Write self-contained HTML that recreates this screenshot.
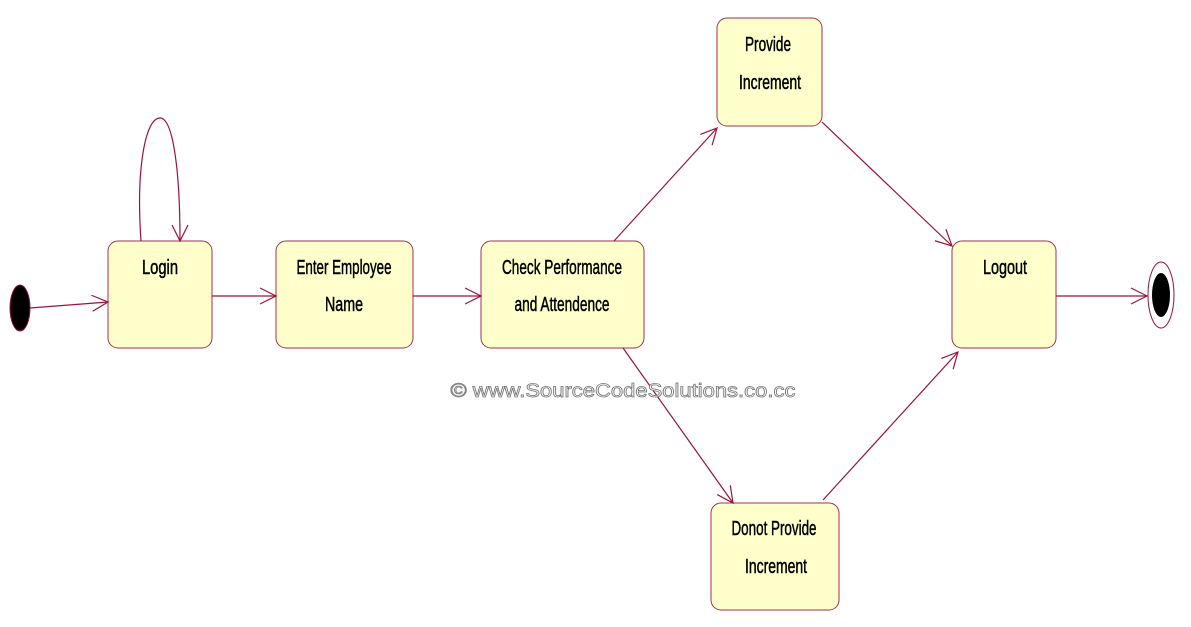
<!DOCTYPE html>
<html><head><style>body{margin:0;background:#fff}svg{display:block}</style></head><body>
<svg width="1191" height="627" viewBox="0 0 1191 627" xmlns="http://www.w3.org/2000/svg">
<defs><marker id="a" markerWidth="20" markerHeight="20" refX="18" refY="10" orient="auto" markerUnits="userSpaceOnUse"><path d="M2,2 L18,10 L2,18" fill="none" stroke="#99143c" stroke-width="1.2"/></marker></defs>
<g fill="#ffffcc" stroke="#a0324f" stroke-width="1">
<rect x="108" y="241" width="104" height="107" rx="10"/>
<rect x="276" y="241" width="137" height="107" rx="10"/>
<rect x="481" y="241" width="163" height="107" rx="10"/>
<rect x="717" y="18" width="105" height="108" rx="10"/>
<rect x="711" y="503" width="128" height="107" rx="10"/>
<rect x="952" y="241" width="104" height="107" rx="10"/>
</g>
<ellipse cx="20" cy="308" rx="10" ry="23" fill="#000" stroke="#99143c"/>
<ellipse cx="1161" cy="295" rx="13" ry="33" fill="#fff" stroke="#99143c"/>
<ellipse cx="1161" cy="295" rx="9" ry="22" fill="#000"/>
<g stroke="#99143c" stroke-width="1.2" fill="none" marker-end="url(#a)">
<path d="M30,308 L108,302"/>
<path d="M212,296 L276,296"/>
<path d="M413,296 L481,296"/>
<path d="M614,241 L717,128"/>
<path d="M822,122 L952,246"/>
<path d="M623,348 L733,503"/>
<path d="M823,500 L958,352"/>
<path d="M1056,296 L1147,296"/>
<path d="M141,241 C136,170 145,118 160,118 C173,118 180,170 180,241"/>
</g>
<g font-family="Liberation Sans, sans-serif" font-size="20" fill="#000" stroke="#000" stroke-width="0.5" text-anchor="middle">
<text x="160" y="274" textLength="36" lengthAdjust="spacingAndGlyphs">Login</text>
<text x="344" y="274" textLength="95" lengthAdjust="spacingAndGlyphs">Enter Employee</text>
<text x="344" y="311" textLength="38" lengthAdjust="spacingAndGlyphs">Name</text>
<text x="562" y="274" textLength="120" lengthAdjust="spacingAndGlyphs">Check Performance</text>
<text x="562" y="311" textLength="95" lengthAdjust="spacingAndGlyphs">and Attendence</text>
<text x="768" y="51" textLength="46" lengthAdjust="spacingAndGlyphs">Provide</text>
<text x="770" y="89" textLength="62" lengthAdjust="spacingAndGlyphs">Increment</text>
<text x="774" y="535" textLength="85" lengthAdjust="spacingAndGlyphs">Donot Provide</text>
<text x="776" y="573" textLength="62" lengthAdjust="spacingAndGlyphs">Increment</text>
<text x="1005" y="274" textLength="44" lengthAdjust="spacingAndGlyphs">Logout</text>
</g>
<text x="623" y="397" font-family="Liberation Sans, sans-serif" font-size="19" fill="#fff" stroke="#777" stroke-width="0.8" text-anchor="middle" textLength="345" lengthAdjust="spacingAndGlyphs">© www.SourceCodeSolutions.co.cc</text>
</svg>
</body></html>
